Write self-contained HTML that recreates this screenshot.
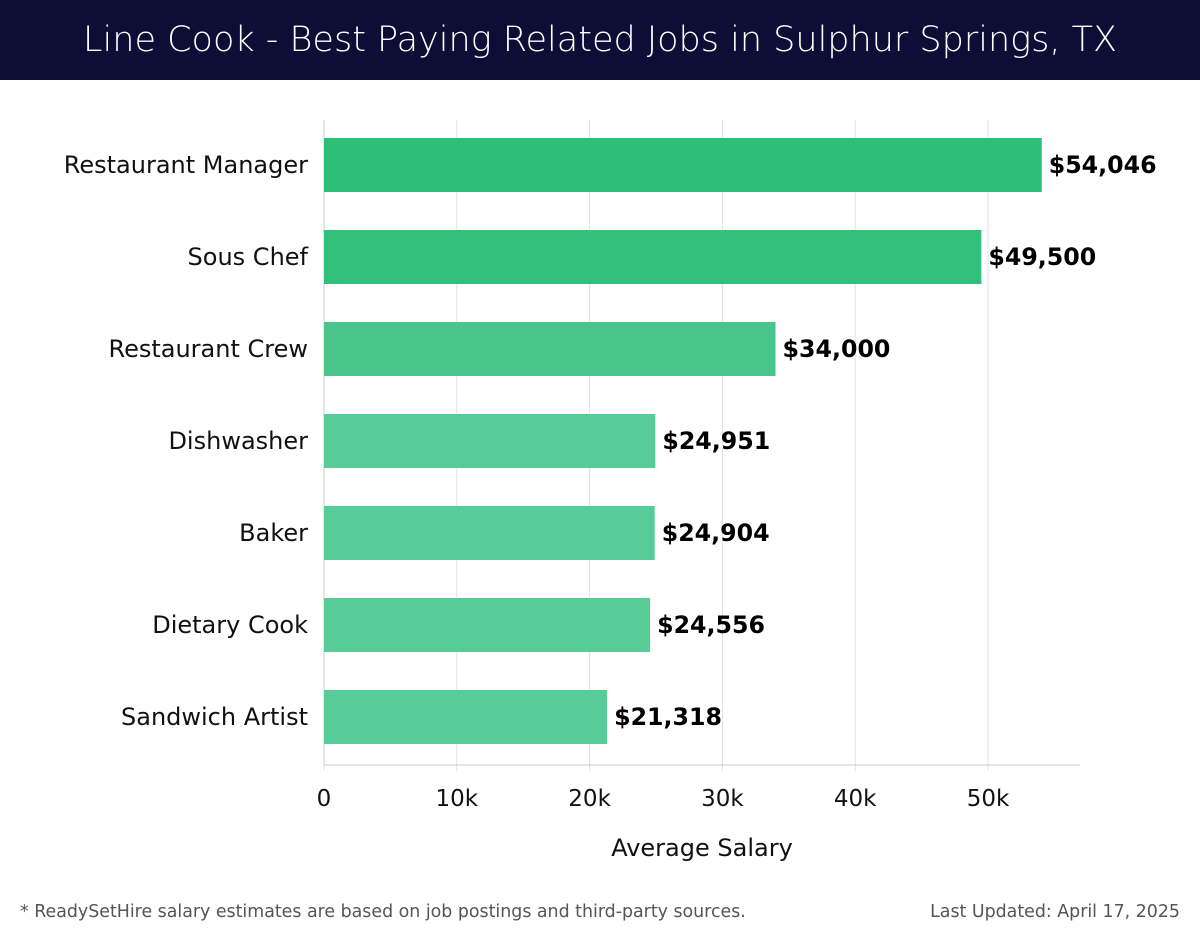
<!DOCTYPE html>
<html><head><meta charset="utf-8"><style>
body{margin:0;width:1200px;height:940px;background:#fff;font-family:"DejaVu Sans","Liberation Sans",sans-serif;overflow:hidden}
#title{position:absolute;left:0;top:0;width:1200px;height:80px;background:#0d0d35;color:#fff;font-size:35px;text-align:center;line-height:80px;font-family:"DejaVu Sans","Liberation Sans",sans-serif;font-weight:200}
.foot{position:absolute;top:902px;font-size:17.4px;color:#555;font-family:"DejaVu Sans","Liberation Sans",sans-serif}
</style></head><body>
<div id="title">Line Cook - Best Paying Related Jobs in Sulphur Springs, TX</div>
<svg id="chart" width="1200" height="940" style="position:absolute;left:0;top:0;font-family:'DejaVu Sans','Liberation Sans',sans-serif"></svg>
<div class="foot" style="left:20px">* ReadySetHire salary estimates are based on job postings and third-party sources.</div>
<div class="foot" style="right:20px">Last Updated: April 17, 2025</div>
<script>
const categories=["Restaurant Manager","Sous Chef","Restaurant Crew","Dishwasher","Baker","Dietary Cook","Sandwich Artist"];
const salaries=[54046,49500,34000,24951,24904,24556,21318];
const barColors=["#2dbe78","#31bf7b","#4ac68d","#57cc97","#57cc97","#57cc97","#57cc97"];
const ticks=[0,10000,20000,30000,40000,50000];
const tickLabels=["0","10k","20k","30k","40k","50k"];
const NS="http://www.w3.org/2000/svg";
const svg=document.getElementById('chart');
const x0=324,pxPer=(988-324)/50000,top0=120,bot=765,step=92,bh=54,firstC=165;
const xs=v=>x0+v*pxPer;
const yc=i=>firstC+i*step;
function mk(t,a){const e=document.createElementNS(NS,t);for(const k in a)e.setAttribute(k,a[k]);svg.appendChild(e);return e;}
ticks.forEach((t,i)=>{
 const g=mk('line',{x1:xs(t),x2:xs(t),y1:top0,y2:bot+6,stroke:'#e0e0e0','stroke-width':1});
 
 
 const l=mk('text',{x:xs(t),y:806,'font-size':23,'text-anchor':'middle',fill:'#111'});
 l.textContent=tickLabels[i];
 
 
});
const ax=mk('line',{x1:x0,x2:1080,y1:bot,y2:bot,stroke:'#ccc'});


const ay=mk('line',{x1:x0,x2:x0,y1:top0,y2:bot,stroke:'#ccc'});


categories.forEach((c,i)=>{
 const r=mk('rect',{x:x0,y:yc(i)-bh/2,width:xs(salaries[i])-x0,height:bh,fill:barColors[i]});
 
 
 const l=mk('text',{x:308,y:yc(i)+8,'font-size':24,'text-anchor':'end',fill:'#111'});
 l.textContent=c;
 
 
 const v=mk('text',{x:xs(salaries[i])+7,y:yc(i)+8,'font-size':23.7,'font-weight':'bold',fill:'#000'});
 v.textContent='$'+salaries[i].toLocaleString('en-US');
 
 
});
const xt=mk('text',{x:702,y:856,'font-size':24,'text-anchor':'middle',fill:'#111'});
xt.textContent='Average Salary';


</script>
</body></html>
